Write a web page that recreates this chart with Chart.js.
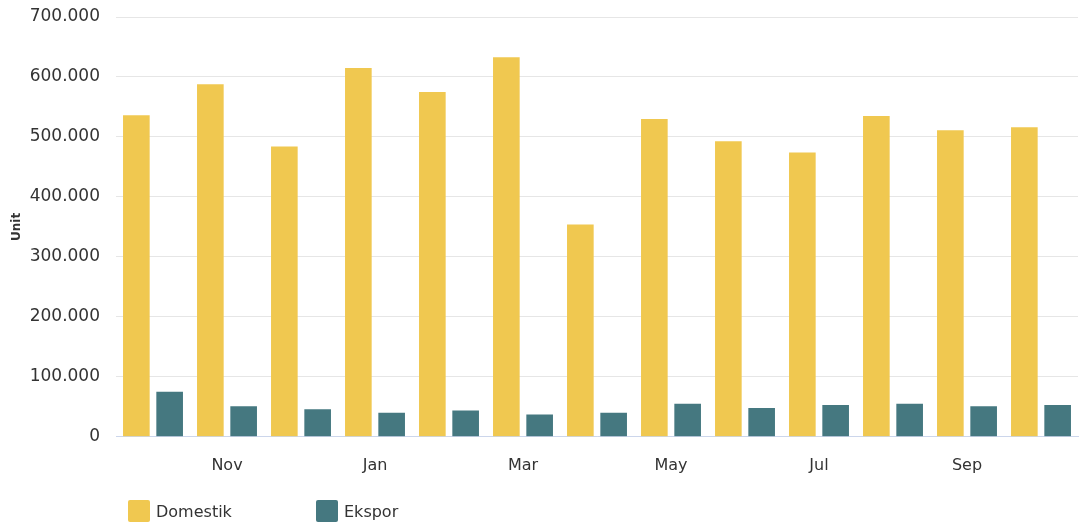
<!DOCTYPE html>
<html>
<head>
<meta charset="utf-8">
<script src="https://cdn.jsdelivr.net/npm/chart.js@4/dist/chart.umd.min.js"></script>
<style>
  html,body{margin:0;padding:0;background:#fff;}
  #wrap{position:relative;width:1087px;height:525px;}
  #legend{position:absolute;left:128px;top:500px;display:flex;font:16px "DejaVu Sans",Verdana,sans-serif;color:#333;}
  #legend .item{display:flex;align-items:center;margin-right:0;}
  #legend .box{width:22px;height:22px;border-radius:2px;margin-right:6px;}
</style>
</head>
<body>
<div id="wrap">
  <canvas id="chart" width="1087" height="525"></canvas>
  <div id="legend"></div>
</div>
<script>
'use strict';
var months=['Oct','Nov','Dec','Jan','Feb','Mar','Apr','May','Jun','Jul','Aug','Sep','Oct'];
var domestik=[536000,588000,484000,615000,575000,633000,354000,530000,493000,474000,535000,511000,516000];
var ekspor=[75000,51000,46000,40000,44000,37000,40000,55000,48000,53000,55000,51000,53000];
var yTicks=[0,100000,200000,300000,400000,500000,600000,700000];

var colors={Domestik:'#F0C850',Ekspor:'#457880'};

var fmt=function(v){
  return String(v).replace(/\B(?=(\d{3})+(?!\d))/g,'.');
};

var ctx=document.getElementById('chart');
var chart=new Chart(ctx,{
  type:'bar',
  data:{
    labels:months,
    datasets:[
      {label:'Domestik',data:domestik,backgroundColor:colors.Domestik},
      {label:'Ekspor',data:ekspor,backgroundColor:colors.Ekspor}
    ]
  },
  options:{
    responsive:false,
    animation:false,
    layout:{padding:{top:17,right:9,bottom:31,left:0}},
    plugins:{legend:{display:false},tooltip:{enabled:false}},
    datasets:{bar:{categoryPercentage:0.9,barPercentage:0.8}},
    scales:{
      x:{
        grid:{display:false,drawTicks:false},
        border:{display:true,color:'#ccd6eb',width:1},
        ticks:{
          autoSkip:false,maxRotation:0,padding:19,color:'#333',
          font:{family:'"DejaVu Sans", Verdana, sans-serif',size:16},
          callback:function(v,i){return i%2===1?months[i]:'';}
        }
      },
      y:{
        min:0,max:700000,
        afterBuildTicks:function(s){s.ticks=yTicks.map(function(v){return {value:v};});},
        afterFit:function(s){s.width=116;s.paddingTop=0;s.paddingBottom=0;},
        grid:{color:'#e6e6e6',drawTicks:false},
        border:{display:false},
        ticks:{
          padding:16,color:'#333',
          font:{family:'"DejaVu Sans", Verdana, sans-serif',size:17},
          callback:function(v){return fmt(v);}
        },
        title:{
          display:true,text:'Unit',color:'#333',padding:{top:10,bottom:4},
          font:{family:'"DejaVu Sans", Verdana, sans-serif',size:12,weight:'bold'}
        }
      }
    }
  }
});

// legend below the chart
var lg=document.getElementById('legend');
chart.data.datasets.forEach(function(ds,i){
  var it=document.createElement('div');
  it.className='item';
  it.style.width=i===0?'188px':'auto';
  it.innerHTML='<span class="box" style="background:'+ds.backgroundColor+'"></span><span>'+ds.label+'</span>';
  lg.appendChild(it);
});
</script>
</body>
</html>
